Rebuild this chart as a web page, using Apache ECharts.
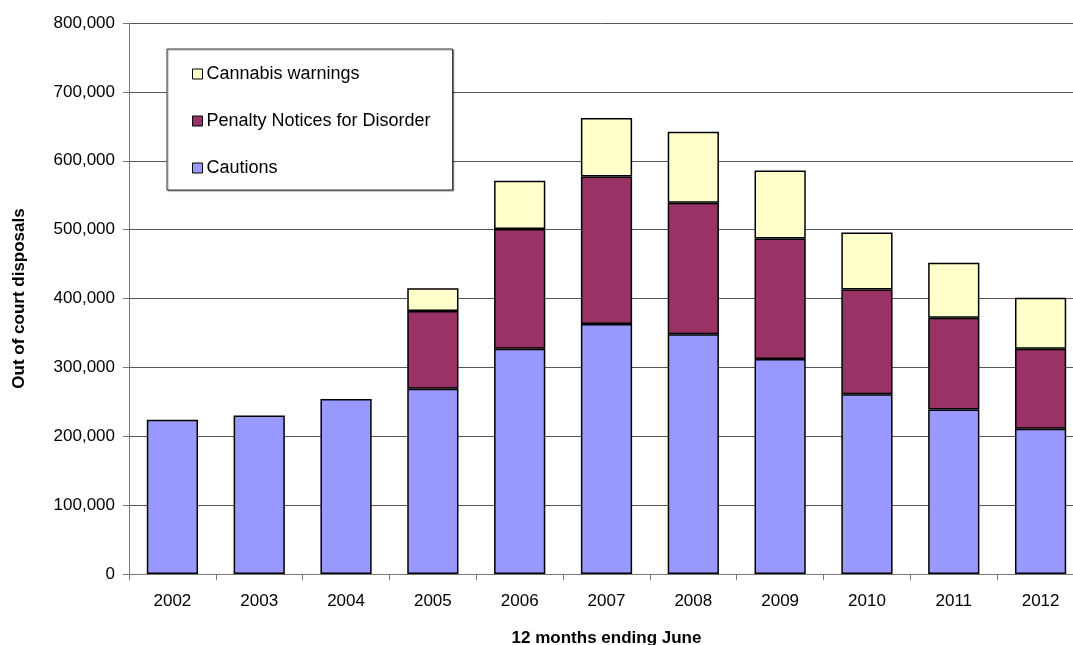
<!DOCTYPE html>
<html>
<head>
<meta charset="utf-8">
<script src="https://cdn.jsdelivr.net/npm/echarts@6/dist/echarts.min.js"></script>
<style>
html,body{margin:0;padding:0;background:#fff;overflow:hidden;}
#chart{width:1073px;height:645px;}
</style>
</head>
<body>
<div id="chart"></div>
<script>
const categories = ['2002','2003','2004','2005','2006','2007','2008','2009','2010','2011','2012'];
const cautions = [224000, 230000, 254000, 269000, 327000, 363000, 348000, 312000, 261000, 239000, 211000];
const pnd = [null, null, null, 113000, 174000, 214000, 191000, 175000, 152000, 133000, 116000];
const cannabis = [null, null, null, 33000, 70000, 85000, 103000, 99000, 83000, 80000, 74000];
const yTicks = { min: 0, max: 800000, interval: 100000 };

const FONT = '"Liberation Sans", Arial, sans-serif';
const chart = echarts.init(document.getElementById('chart'), null, { renderer: 'canvas' });

function fmt(v) { return String(v).replace(/\B(?=(\d{3})+(?!\d))/g, ','); }

const barStyle = (color) => ({ color: color, borderColor: '#000', borderWidth: 1.5 });

chart.setOption({
  animation: false,
  backgroundColor: '#fff',
  grid: { left: 129, width: 955, top: 23, height: 551, containLabel: false, outerBoundsMode: 'none' },
  legend: {
    orient: 'vertical',
    left: 167,
    top: 49,
    data: ['Cannabis warnings', 'Penalty Notices for Disorder', 'Cautions'],
    icon: 'rect',
    itemWidth: 10,
    itemHeight: 10,
    itemGap: 29,
    padding: [16, 22, 13, 25],
    backgroundColor: '#fff',
    borderColor: '#333',
    borderWidth: 1,
    borderRadius: 0,
    shadowColor: 'rgba(0,0,0,0.35)',
    shadowOffsetX: 1,
    shadowOffsetY: 1,
    shadowBlur: 1,
    textStyle: { fontFamily: FONT, fontSize: 18, color: '#000', padding: [0, 0, 0, -1] },
    itemStyle: { borderColor: '#000', borderWidth: 1 }
  },
  xAxis: {
    type: 'category',
    data: categories,
    boundaryGap: true,
    name: '12 months ending June',
    nameLocation: 'middle',
    nameGap: 56,
    nameTextStyle: { fontFamily: FONT, fontSize: 17, fontWeight: 'bold', color: '#000' },
    axisLine: { show: true, lineStyle: { color: '#777', width: 1 } },
    axisTick: { show: true, alignWithLabel: false, length: 6, lineStyle: { color: '#777' } },
    axisLabel: { fontFamily: FONT, fontSize: 17, color: '#000', margin: 19 },
    splitLine: { show: false }
  },
  yAxis: {
    type: 'value',
    min: yTicks.min,
    max: yTicks.max,
    interval: yTicks.interval,
    name: 'Out of court disposals',
    nameLocation: 'middle',
    nameGap: 101,
    nameRotate: 90,
    nameTextStyle: { fontFamily: FONT, fontSize: 17, fontWeight: 'bold', color: '#000' },
    axisLine: { show: true, lineStyle: { color: '#777', width: 1 } },
    axisTick: { show: true, inside: false, length: 6, lineStyle: { color: '#777' } },
    axisLabel: { fontFamily: FONT, fontSize: 17, color: '#000', margin: 14, formatter: fmt },
    splitLine: { show: true, lineStyle: { color: '#555', width: 1 } }
  },
  series: [
    { name: 'Cautions', type: 'bar', stack: 'total', data: cautions, barWidth: '59%', itemStyle: barStyle('#9999FF') },
    { name: 'Penalty Notices for Disorder', type: 'bar', stack: 'total', data: pnd, barWidth: '59%', itemStyle: barStyle('#993366') },
    { name: 'Cannabis warnings', type: 'bar', stack: 'total', data: cannabis, barWidth: '59%', itemStyle: barStyle('#FFFFCC') }
  ]
});
</script>
</body>
</html>
